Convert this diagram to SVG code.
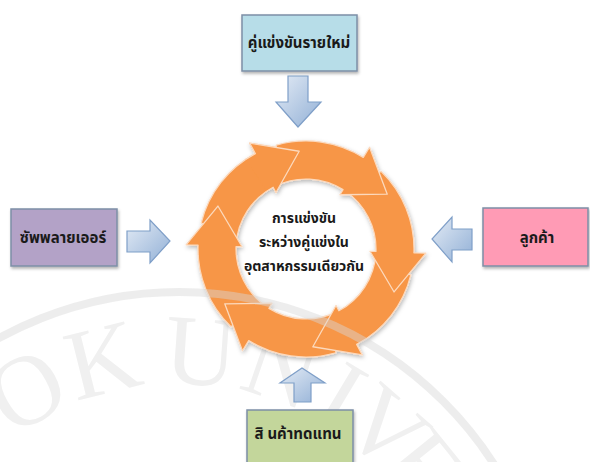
<svg xmlns="http://www.w3.org/2000/svg" xmlns:xlink="http://www.w3.org/1999/xlink" width="590" height="462" viewBox="0 0 590 462">
  <defs>
    <style>
      .box { stroke: #7d8fa6; stroke-width: 1.5; filter: url(#shadow); }
      .lbl { font-family: "Noto Sans Thai", "Noto Sans Thai Looped", "Tahoma", "Noto Sans", sans-serif; font-weight: bold; font-size: 15px; fill: #1a1a1a; text-anchor: middle; }
      .ctr { font-family: "Noto Sans Thai", "Noto Sans Thai Looped", "Tahoma", "Noto Sans", sans-serif; font-weight: bold; font-size: 14px; fill: #1a1a1a; text-anchor: middle; }
      .barrow { fill: url(#blueGrad); stroke: #7f9fc8; stroke-width: 1.2; }
      .seg { fill: #f79646; stroke: #fcd9bd; stroke-width: 1.3; stroke-linejoin: round; }
      .wm { font-family: "Liberation Serif", serif; font-size: 100px; fill: #f0f0f0; text-anchor: middle; }
    </style>
    <linearGradient id="blueGrad" x1="0" y1="0" x2="1" y2="1">
      <stop offset="0" stop-color="#e3ebf5"/>
      <stop offset="1" stop-color="#92b0d6"/>
    </linearGradient>
    <filter id="shadow" x="-20%" y="-20%" width="140%" height="140%">
      <feDropShadow dx="1" dy="2" stdDeviation="1.6" flood-color="#000" flood-opacity="0.3"/>
    </filter>
    <filter id="ringShadow" x="-20%" y="-20%" width="140%" height="140%">
      <feDropShadow dx="1" dy="2" stdDeviation="2" flood-color="#000" flood-opacity="0.28"/>
    </filter>
    <path id="seg" class="seg" d="M33.4,-102.7 A108,108 0 0 1 98.7,-43.9 L109.6,-48.8 L98,0 L58.5,-26 L63.9,-28.5 A70,70 0 0 0 9.7,-69.3 Z"/>
    <clipPath id="headClip">
      <polygon points="0,0 147.2,-85 175,0 174.3,15.3"/>
    </clipPath>
  </defs>

  <!-- watermark (behind) -->
  <g id="watermark-letters">
    <text class="wm" transform="translate(179,666) rotate(-29)" y="-282">O</text>
    <text class="wm" transform="translate(179,666) rotate(-14)" y="-282">K</text>
    <text class="wm" transform="translate(179,666) rotate(4)" y="-282">U</text>
    <text class="wm" transform="translate(179,666) rotate(19)" y="-282">N</text>
    <text class="wm" transform="translate(179,666) rotate(31)" y="-282">I</text>
    <text class="wm" transform="translate(179,666) rotate(41)" y="-282">V</text>
    <text class="wm" transform="translate(179,666) rotate(51)" y="-282">E</text>
  </g>

  <g id="cycle" filter="url(#ringShadow)">
    <use xlink:href="#seg" transform="translate(306,249) rotate(266)"/>
    <use xlink:href="#seg" transform="translate(306,249) rotate(206)"/>
    <use xlink:href="#seg" transform="translate(306,249) rotate(146)"/>
    <use xlink:href="#seg" transform="translate(306,249) rotate(86)"/>
    <use xlink:href="#seg" transform="translate(306,249) rotate(26)"/>
    <use xlink:href="#seg" transform="translate(306,249) rotate(-34)"/>
    <g transform="translate(306,249) rotate(266)">
      <use xlink:href="#seg" clip-path="url(#headClip)"/>
    </g>
  </g>

  <g id="center-text">
    <text class="ctr" x="304" y="223">การแข่งขัน</text>
    <text class="ctr" x="304" y="247">ระหว่างคู่แข่งใน</text>
    <text class="ctr" x="304" y="271">อุตสาหกรรมเดียวกัน</text>
  </g>

  <g id="connectors">
    <path class="barrow" d="M288,76 H308 V102 H321 L298,127 L276,102 H288 Z"/>
    <path class="barrow" d="M127,231 H150 V220 L170,241 L150,263 V252 H127 Z"/>
    <path class="barrow" d="M472,229 H452 V217 L432,239 L452,262 V250 H472 Z"/>
    <path class="barrow" d="M294,402 V383 H280 L302,368 L325,383 H311 V402 Z"/>
  </g>

  <g id="new-entrants">
    <rect class="box" x="242" y="15" width="115" height="56" fill="#b7dde8"/>
    <text class="lbl" x="299" y="48">คู่แข่งขันรายใหม่</text>
  </g>
  <g id="suppliers">
    <rect class="box" x="11" y="209" width="106" height="57" fill="#b3a2c7"/>
    <text class="lbl" x="63" y="243">ซัพพลายเออร์</text>
  </g>
  <g id="customers">
    <rect class="box" x="483" y="208" width="105" height="58" fill="#ff9bb5"/>
    <text class="lbl" x="537" y="243">ลูกค้า</text>
  </g>
  <g id="substitutes">
    <rect class="box" x="247" y="410" width="106" height="60" fill="#c3d69b"/>
    <text class="lbl" x="298" y="439">สิ นค้าทดแทน</text>
  </g>

  <!-- watermark ring (translucent, on top) -->
  <circle cx="179" cy="666" r="374" fill="none" stroke="#d8d8d8" stroke-width="8" opacity="0.45"/>
</svg>
